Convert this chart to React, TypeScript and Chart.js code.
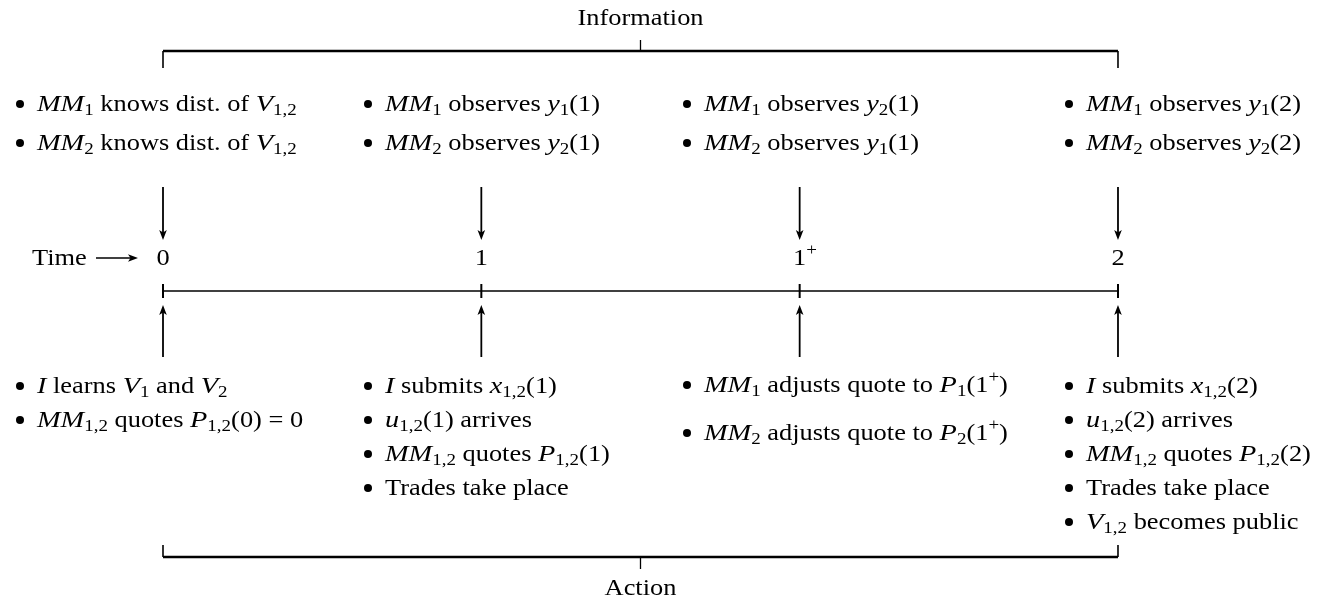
import React, { useEffect, useRef } from "react";
import { Chart, registerables } from "chart.js";

Chart.register(...registerables);

// ---------------- data ----------------
const timeValues = [0, 1, 2, 3];
const timeLabels = ["0", "1", "$1^+$", "2"];
const axisLabel = "Time";
const topTitle = "Information";
const bottomTitle = "Action";

const infoItems: string[][] = [
  ["$MM_1$ knows dist. of $V_{1,2}$", "$MM_2$ knows dist. of $V_{1,2}$"],
  ["$MM_1$ observes $y_1(1)$", "$MM_2$ observes $y_2(1)$"],
  ["$MM_1$ observes $y_2(1)$", "$MM_2$ observes $y_1(1)$"],
  ["$MM_1$ observes $y_1(2)$", "$MM_2$ observes $y_2(2)$"],
];

const actionItems: string[][] = [
  ["$I$ learns $V_1$ and $V_2$", "$MM_{1,2}$ quotes $P_{1,2}(0)=0$"],
  ["$I$ submits $x_{1,2}(1)$", "$u_{1,2}(1)$ arrives", "$MM_{1,2}$ quotes $P_{1,2}(1)$", "Trades take place"],
  ["$MM_1$ adjusts quote to $P_1(1^+)$", "$MM_2$ adjusts quote to $P_2(1^+)$"],
  ["$I$ submits $x_{1,2}(2)$", "$u_{1,2}(2)$ arrives", "$MM_{1,2}$ quotes $P_{1,2}(2)$", "Trades take place", "$V_{1,2}$ becomes public"],
];

// ---------------- layout ----------------
const W = 1330;
const H = 604;
const X0 = 163;
const X_STEP = 318.33;
const X_MIN = -X0 / X_STEP;
const X_MAX = (W - X0) / X_STEP;
const FONT = '"Liberation Serif", "Times New Roman", serif';
const FS = 24;
const SX = 1.1;
const SX_IT = 1.18;

const TL_Y = 291;
const TITLE_TOP_Y = 25;
const BR_TOP_Y = 51;
const BR_TOP_END = 68;
const BR_TOP_TICK = 40;
const BR_BOT_Y = 557;
const BR_BOT_END = 545;
const BR_BOT_TICK = 569;
const TITLE_BOT_Y = 595;
const DOWN_FROM = 187;
const DOWN_TO = 240;
const UP_FROM = 357;
const UP_TO = 305;
const LABEL_BASE = 265;

const colTextX = [37, 385, 704, 1086];
const topBaselines = [111, 150];
const botBaselines = [393, 427, 461, 495, 529];
const botBaselinesSpaced = [392, 440];

// ---------------- rich text ----------------
type Run = { t: string; it: boolean; lvl: number };

function parse(s: string): Run[] {
  const runs: Run[] = [];
  const push = (t: string, it: boolean, lvl: number) => {
    const last = runs[runs.length - 1];
    if (last && last.it === it && last.lvl === lvl) last.t += t;
    else runs.push({ t, it, lvl });
  };
  let math = false;
  let i = 0;
  while (i < s.length) {
    const c = s[i];
    if (c === "$") {
      math = !math;
      i++;
      continue;
    }
    if (!math) {
      push(c, false, 0);
      i++;
      continue;
    }
    if (c === "_" || c === "^") {
      const lvl = c === "_" ? -1 : 1;
      i++;
      let grp = "";
      if (s[i] === "{") {
        const j = s.indexOf("}", i);
        grp = s.slice(i + 1, j);
        i = j + 1;
      } else {
        grp = s[i];
        i++;
      }
      for (const g of grp) push(g, /[A-Za-z]/.test(g), lvl);
      continue;
    }
    if (c === "=") {
      push(" = ", false, 0);
      i++;
      continue;
    }
    push(c, /[A-Za-z]/.test(c), 0);
    i++;
  }
  return runs;
}

function setFont(ctx: CanvasRenderingContext2D, r: Run, size: number) {
  const fs = r.lvl === 0 ? size : size * 0.72;
  ctx.font = `${r.it ? "italic " : ""}${fs}px ${FONT}`;
}

function runScale(r: Run) {
  return r.it ? SX_IT : SX;
}

function richWidth(ctx: CanvasRenderingContext2D, s: string, size: number, baseOnly = false) {
  let w = 0;
  for (const r of parse(s)) {
    if (baseOnly && r.lvl !== 0) continue;
    setFont(ctx, r, size);
    w += ctx.measureText(r.t).width * runScale(r);
  }
  return w;
}

function drawRich(ctx: CanvasRenderingContext2D, s: string, x: number, y: number, size: number) {
  let cx = x;
  ctx.textBaseline = "alphabetic";
  ctx.textAlign = "left";
  for (const r of parse(s)) {
    setFont(ctx, r, size);
    const dy = r.lvl === -1 ? size * 0.17 : r.lvl === 1 ? -size * 0.4 : 0;
    const k = runScale(r);
    ctx.save();
    ctx.translate(cx, y + dy);
    ctx.scale(k, 1);
    ctx.fillText(r.t, 0, 0);
    ctx.restore();
    cx += ctx.measureText(r.t).width * k;
  }
}

function seg(ctx: CanvasRenderingContext2D, x1: number, y1: number, x2: number, y2: number, lw: number) {
  ctx.lineWidth = lw;
  ctx.beginPath();
  ctx.moveTo(x1, y1);
  ctx.lineTo(x2, y2);
  ctx.stroke();
}

function arrow(ctx: CanvasRenderingContext2D, x1: number, y1: number, x2: number, y2: number, lw: number) {
  const len = Math.hypot(x2 - x1, y2 - y1);
  const dx = (x2 - x1) / len;
  const dy = (y2 - y1) / len;
  const L = 10;
  const hw = 3.8;
  seg(ctx, x1, y1, x2 - dx * 5, y2 - dy * 5, lw);
  const bx = x2 - dx * L;
  const by = y2 - dy * L;
  const nx = -dy;
  const ny = dx;
  ctx.beginPath();
  ctx.moveTo(x2, y2);
  ctx.lineTo(bx + nx * hw, by + ny * hw);
  ctx.lineTo(x2 - dx * (L - 2.5), y2 - dy * (L - 2.5));
  ctx.lineTo(bx - nx * hw, by - ny * hw);
  ctx.closePath();
  ctx.fill();
}

function bullet(ctx: CanvasRenderingContext2D, textX: number, baseline: number) {
  ctx.beginPath();
  ctx.arc(textX - 17, baseline - 7, 4, 0, Math.PI * 2);
  ctx.fill();
}

const diagramPlugin = {
  id: "diagram",
  afterDatasetsDraw(chart: any) {
    const ctx: CanvasRenderingContext2D = chart.ctx;
    const xs = chart.scales.x;
    const ys = chart.scales.y;
    const px = (v: number) => xs.getPixelForValue(v);
    const py = (v: number) => ys.getPixelForValue(v);
    ctx.save();
    ctx.fillStyle = "#000";
    ctx.strokeStyle = "#000";
    ctx.lineCap = "butt";

    const first = timeValues[0];
    const last = timeValues[timeValues.length - 1];
    const mid = (first + last) / 2;

    // bracket end verticals and center ticks
    seg(ctx, px(first), py(BR_TOP_Y), px(first), py(BR_TOP_END), 1.6);
    seg(ctx, px(last), py(BR_TOP_Y), px(last), py(BR_TOP_END), 1.6);
    seg(ctx, px(mid), py(BR_TOP_Y), px(mid), py(BR_TOP_TICK), 1.3);
    seg(ctx, px(first), py(BR_BOT_Y), px(first), py(BR_BOT_END), 1.6);
    seg(ctx, px(last), py(BR_BOT_Y), px(last), py(BR_BOT_END), 1.6);
    seg(ctx, px(mid), py(BR_BOT_Y), px(mid), py(BR_BOT_TICK), 1.3);

    // titles
    const tw = richWidth(ctx, topTitle, FS);
    drawRich(ctx, topTitle, px(mid) - tw / 2, py(TITLE_TOP_Y), FS);
    const bw = richWidth(ctx, bottomTitle, FS);
    drawRich(ctx, bottomTitle, px(mid) - bw / 2, py(TITLE_BOT_Y), FS);

    // ticks, arrows, labels
    timeValues.forEach((v, i) => {
      const X = px(v);
      seg(ctx, X, py(TL_Y - 7), X, py(TL_Y + 7), 2);
      arrow(ctx, X, py(DOWN_FROM), X, py(DOWN_TO), 1.8);
      arrow(ctx, X, py(UP_FROM), X, py(UP_TO), 1.8);
      const lw = richWidth(ctx, timeLabels[i], FS, true);
      drawRich(ctx, timeLabels[i], X - lw / 2, py(LABEL_BASE), FS);
    });

    // Time ->
    drawRich(ctx, axisLabel, 32, py(LABEL_BASE), FS);
    arrow(ctx, 96, py(LABEL_BASE - 7), 138, py(LABEL_BASE - 7), 1.6);

    // information items
    infoItems.forEach((items, c) => {
      items.forEach((s, k) => {
        const by = py(topBaselines[k]);
        bullet(ctx, colTextX[c], by);
        drawRich(ctx, s, colTextX[c], by, FS);
      });
    });

    // action items
    actionItems.forEach((items, c) => {
      const bases = items.length === 2 && items[0].includes("^+") ? botBaselinesSpaced : botBaselines;
      items.forEach((s, k) => {
        const by = py(bases[k]);
        bullet(ctx, colTextX[c], by);
        drawRich(ctx, s, colTextX[c], by, FS);
      });
    });

    ctx.restore();
  },
};

export default function App() {
  const ref = useRef<HTMLCanvasElement>(null);
  useEffect(() => {
    document.body.style.margin = "0";
    const canvas = ref.current!;
    const first = timeValues[0];
    const last = timeValues[timeValues.length - 1];
    const chart = new Chart(canvas, {
      type: "scatter",
      data: {
        datasets: [
          {
            label: "timeline",
            data: timeValues.map((v) => ({ x: v, y: TL_Y })),
            showLine: true,
            borderColor: "#000",
            borderWidth: 1.7,
            pointRadius: 0,
          },
          {
            label: "info bracket",
            data: [
              { x: first, y: BR_TOP_Y },
              { x: last, y: BR_TOP_Y },
            ],
            showLine: true,
            borderColor: "#000",
            borderWidth: 2.6,
            pointRadius: 0,
          },
          {
            label: "action bracket",
            data: [
              { x: first, y: BR_BOT_Y },
              { x: last, y: BR_BOT_Y },
            ],
            showLine: true,
            borderColor: "#000",
            borderWidth: 2.6,
            pointRadius: 0,
          },
        ],
      },
      options: {
        animation: false,
        responsive: false,
        maintainAspectRatio: false,
        events: [],
        layout: { padding: 0 },
        plugins: { legend: { display: false }, tooltip: { enabled: false } },
        scales: {
          x: { type: "linear", min: X_MIN, max: X_MAX, display: false },
          y: { type: "linear", min: 0, max: H, reverse: true, display: false },
        },
      },
      plugins: [diagramPlugin],
    } as any);
    return () => chart.destroy();
  }, []);
  return <canvas ref={ref} width={W} height={H} style={{ display: "block", background: "#fff" }} />;
}
